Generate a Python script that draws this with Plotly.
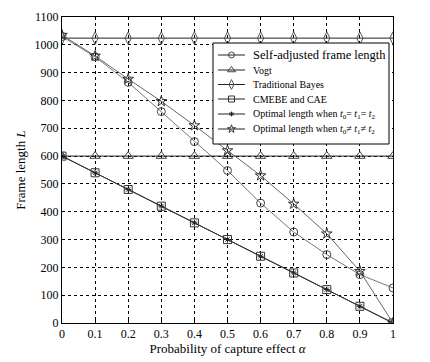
import plotly.graph_objects as go

alpha = [0, 0.1, 0.2, 0.3, 0.4, 0.5, 0.6, 0.7, 0.8, 0.9, 1.0]
self_adjusted = [1030, 957, 865, 760, 652, 548, 431, 327, 246, 174, 126]
vogt = [600] * 11
bayes = [1024] * 11
cmebe = [600, 540, 480, 420, 360, 300, 240, 180, 120, 60, 0]
opt_equal = [600, 540, 480, 420, 360, 300, 240, 180, 120, 60, 0]
opt_unequal = [1035, 960, 877, 797, 710, 620, 530, 428, 321, 186, 0]
x_ticks = [0, 0.1, 0.2, 0.3, 0.4, 0.5, 0.6, 0.7, 0.8, 0.9, 1]
x_tick_labels = ["0", "0.1", "0.2", "0.3", "0.4", "0.5", "0.6", "0.7", "0.8", "0.9", "1"]
y_ticks = list(range(0, 1101, 100))

names = [
    "Self-adjusted frame length",
    "Vogt",
    "Traditional Bayes",
    "CMEBE and CAE",
    "Optimal length when <i>t</i><sub>0</sub>= <i>t</i><sub>1</sub>= <i>t</i><sub>2</sub>",
    "Optimal length when <i>t</i><sub>0</sub>≠ <i>t</i><sub>1</sub>≠ <i>t</i><sub>2</sub>",
]
series = [self_adjusted, vogt, bayes, cmebe, opt_equal, opt_unequal]
styles = [
    dict(symbol="circle-open", size=8, lc="#777", mc="#444"),
    dict(symbol="triangle-up-open", size=9, lc="#222", mc="#444"),
    dict(symbol="diamond-tall-open", size=9, lc="#222", mc="#555"),
    dict(symbol="square-open", size=8, lc="#333", mc="#333"),
    dict(symbol="asterisk-open", size=5, lc="#333", mc="#222"),
    dict(symbol="star-open", size=8, lc="#666", mc="#333"),
]

FONT = "Liberation Serif"
fig = go.Figure()

for y, name, st in zip(series, names, styles):
    fig.add_trace(go.Scatter(
        x=alpha, y=y, name=name, mode="lines+markers", showlegend=False,
        line=dict(color=st["lc"], width=1),
        marker=dict(symbol=st["symbol"], size=st["size"], color=st["mc"],
                    line=dict(color=st["mc"], width=1)),
    ))

# ---- hand-drawn legend on an overlay pixel-space axis ----
box_x0, box_x1, box_y0, box_y1 = 213, 389, 43, 144
row_y = [55, 70, 84.5, 99, 114, 129]
fig.add_trace(go.Scatter(
    x=[box_x0, box_x1, box_x1, box_x0, box_x0],
    y=[box_y0, box_y0, box_y1, box_y1, box_y0],
    mode="lines", fill="toself", fillcolor="white",
    line=dict(color="black", width=1), xaxis="x2", yaxis="y2",
    showlegend=False, hoverinfo="skip"))
for ry, st in zip(row_y, styles):
    fig.add_trace(go.Scatter(
        x=[218, 245], y=[ry, ry], mode="lines",
        line=dict(color="#222", width=1),
        xaxis="x2", yaxis="y2", showlegend=False, hoverinfo="skip"))
    fig.add_trace(go.Scatter(
        x=[231.5], y=[ry], mode="markers",
        marker=dict(symbol=st["symbol"], size=max(st["size"] - 2, 4), color=st["mc"],
                    line=dict(color=st["mc"], width=1)),
        xaxis="x2", yaxis="y2", showlegend=False, hoverinfo="skip"))
for i, (ry, name) in enumerate(zip(row_y, names)):
    fig.add_annotation(
        x=251, y=ry, xref="x2", yref="y2", text=name, showarrow=False,
        xanchor="left", yanchor="middle",
        font=dict(family=FONT, size=12.5 if i == 0 else 10, color="black"))

axis_common = dict(
    showline=True, linecolor="black", linewidth=1, mirror=True,
    showgrid=True, gridcolor="black", griddash="dot", gridwidth=1,
    ticks="inside", ticklen=3, tickcolor="black",
    tickfont=dict(family=FONT, size=12, color="black"),
    zeroline=False, automargin=False,
)

fig.update_layout(
    xaxis=dict(range=[0, 1], tickvals=x_ticks, ticktext=x_tick_labels,
               title=dict(text="Probability of capture effect <i>α</i>",
                          font=dict(family=FONT, size=13, color="black"), standoff=2),
               **axis_common),
    yaxis=dict(range=[0, 1100], tickvals=y_ticks,
               title=dict(text="Frame length <i>L</i>",
                          font=dict(family=FONT, size=13, color="black"), standoff=6),
               **axis_common),
    xaxis2=dict(overlaying="x", range=[62, 393], visible=False, fixedrange=True),
    yaxis2=dict(overlaying="y", range=[323, 17], visible=False, fixedrange=True),
    width=430, height=362,
    margin=dict(l=62, r=37, t=17, b=39),
    plot_bgcolor="white", paper_bgcolor="white",
    font=dict(family=FONT, color="black"),
    showlegend=False,
)

fig.write_html("out.html", config={"displayModeBar": False},
               post_script="document.body.style.margin='0';")
